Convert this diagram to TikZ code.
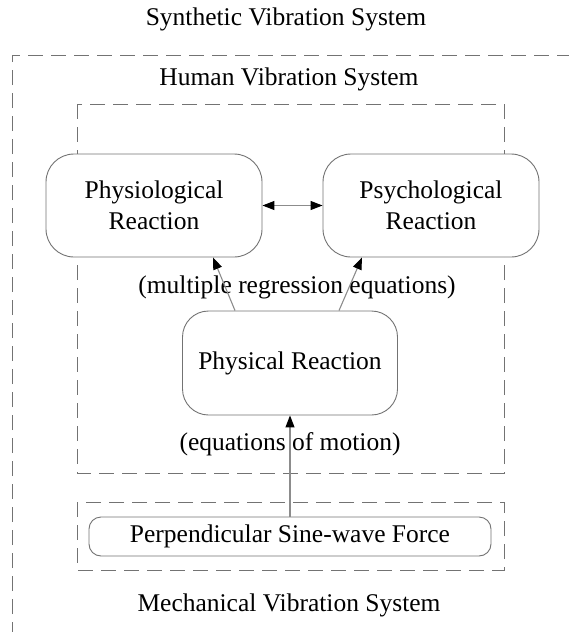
\documentclass[tikz,border=0pt]{standalone}
\usepackage{fontspec}
\setmainfont{Liberation Serif}
\usetikzlibrary{positioning}
\usetikzlibrary{arrows.meta}

\begin{document}
\begin{tikzpicture}[x=1pt, y=-1pt,
        every node/.style={font=\fontsize{25.5}{31}\selectfont},
        head/.tip={Triangle[length=12pt, width=9pt, color=black]},
        sys/.style={draw=black!55, line width=0.9pt, dash pattern=on 15pt off 8pt},
        react/.style={draw=black!55, fill=white, line width=0.9pt, rounded corners=28pt,
            align=center, inner sep=0pt, minimum width=216pt, minimum height=103pt},
        link/.style={draw=black!45, line width=1.1pt, -head},
        twoway/.style={draw=black!45, line width=1.1pt, head-head}]

                \useasboundingbox (0, 0) rectangle (569, 632);

                % Frames of the three systems
                \draw[sys] (12, 660) -- (12, 55) -- (600, 55);
                \draw[sys] (77, 104) rectangle (504, 473);
                \draw[sys] (77, 502) rectangle (504, 570);

                \node (syn) at (286, 19)
                {Synthetic Vibration System};
                \node (hum) at (289, 79)
                {Human Vibration System};
                \node (mech) at (289, 605)
                {Mechanical Vibration System};

                % Reactions of the human body
                \node[react] (physio) at (154, 205.5)
                {Physiological\\Reaction};
                \node[react] (psych) at (431, 205.5)
                {Psychological\\Reaction};
                \node[react, minimum width=215pt, minimum height=104pt, rounded corners=26pt]
                (phys) at (290, 363)
                {Physical Reaction};
                \node[react, minimum width=402pt, minimum height=39pt, rounded corners=12pt]
                (force) at (290, 536.5)
                {Perpendicular Sine-wave Force};

                \node (regr) at (297, 287)
                {(multiple regression equations)};
                \node (motion) at (290, 444)
                {(equations of motion)};

                \begin{scope}
                    \draw[twoway] (physio.east) -- (psych.west);
                    \draw[link] ([xshift=-55pt]phys.north) -- ([xshift=59pt]physio.south);
                    \draw[link] ([xshift=49pt]phys.north) -- ([xshift=-69pt]psych.south);
                    \draw[link] (force.north) -- (phys.south);
                \end{scope}

\end{tikzpicture}
\end{document}
